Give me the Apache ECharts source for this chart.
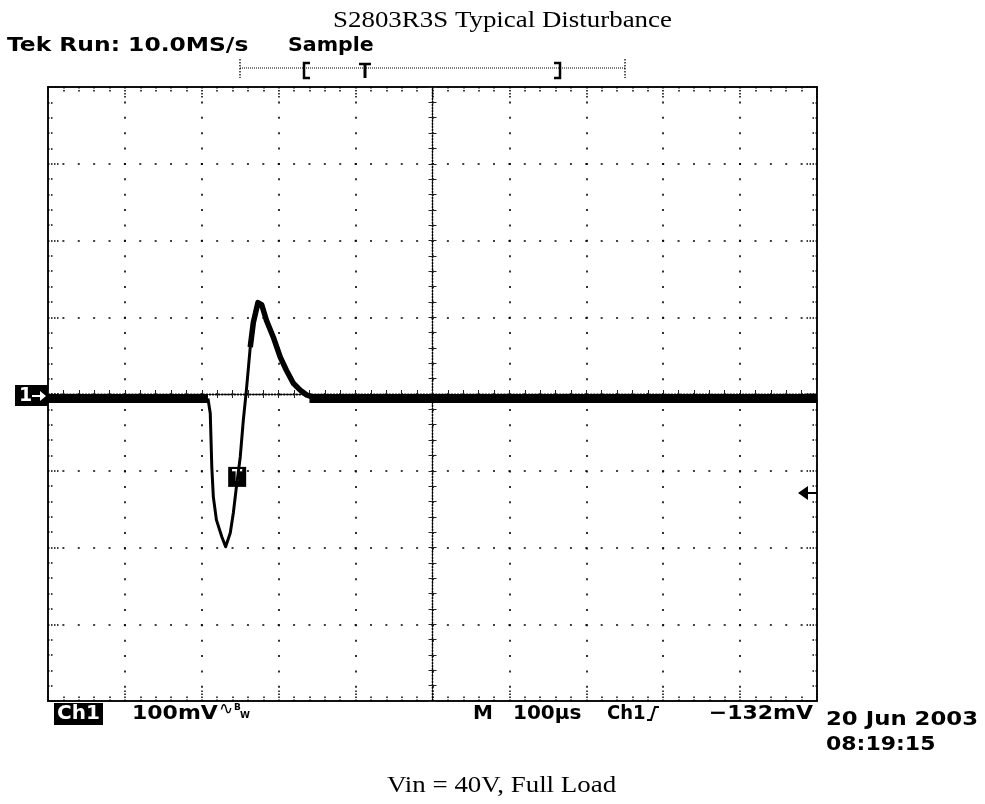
<!DOCTYPE html>
<html><head><meta charset="utf-8">
<script src="https://cdn.jsdelivr.net/npm/echarts@6/dist/echarts.min.js"></script>
<style>html,body{margin:0;padding:0;background:#fff;}#c{width:985px;height:804px;}</style>
</head><body><div id="c"></div>
<script>
// ---- data ----
const titleText = 'S2803R3S Typical Disturbance';
const captionText = 'Vin = 40V, Full Load';
const xRange = [-500, 500];   // µs (100 µs / div)
const yRange = [-400, 400];   // mV (100 mV / div)
const baseLevel = -6;         // mV
const flatLeftT = [-500, -292];
const flatRightT = [-160, 500];
const dipT = [-292, -289, -287, -285, -281, -274, -269, -263, -259, -255, -250, -246, -242, -237, -233];
const dipV = [-6, -25, -95, -134, -164, -186, -199, -181, -155, -121, -82, -34, 5, 61, 93];
const humpT = [-237, -233, -227, -222, -216, -207, -198, -190, -181, -172, -164, -155, -150];
const humpV = [61, 93, 119, 116, 96, 74, 48, 31, 14, 5, -1, -4, -6];
const triggerMarker = [-254, -108];
const triggerLevel = -132;

const chart = echarts.init(document.getElementById('c'), null, {renderer: 'canvas'});
const BLK = '#000';
const dotGrid = [2, 13.38];
const dense = [1.5, 1.6];

function borderAxis(pos, withSplit, range) {
  return {
    type: 'value', min: range[0], max: range[1], interval: 100, position: pos,
    axisLine: {show: true, onZero: false, lineStyle: {color: '#111', width: 2}},
    axisTick: {show: true, inside: true, length: 11, lineStyle: {color: BLK, width: 1.5, type: [1.5, 1.5]}},
    minorTick: {show: true, splitNumber: 5, length: 6, lineStyle: {color: BLK, width: 1.5, type: [1.5, 1.5]}},
    axisLabel: {show: false},
    splitLine: {show: withSplit, lineStyle: {color: BLK, width: 1.6, type: dotGrid, dashOffset: 1}},
    minorSplitLine: {show: false}
  };
}
function centerAxis(pos, inside, range) {
  return {
    type: 'value', min: range[0], max: range[1], interval: 100, position: pos,
    axisLine: {show: true, onZero: true, onZeroAxisIndex: 0, lineStyle: {color: BLK, width: 1.3, type: dense}},
    axisTick: {show: true, inside: inside, length: 4, lineStyle: {color: '#222', width: 1}},
    minorTick: {show: true, splitNumber: 5, length: 4, lineStyle: {color: '#222', width: 1}},
    axisLabel: {show: false},
    splitLine: {show: false}
  };
}
function pts(ts, vs) { return ts.map((t, i) => [t, vs[i]]); }
function flat(ts) { return ts.map(t => [t, baseLevel]); }

function txt(x, y, text, font, sx, opts) {
  opts = opts || {};
  return {
    type: 'text', x: x, y: y, z: 100, scaleX: sx || 1,
    style: {text: text, font: font, fill: opts.fill || '#000',
      textAlign: opts.align || 'left', align: opts.align || 'left',
      textVerticalAlign: 'middle', verticalAlign: 'middle'}
  };
}
const TEK = '"DejaVu Sans"';

const option = {
  animation: false,
  backgroundColor: '#fff',
  grid: {left: 48, right: 168, top: 87, bottom: 103, containLabel: false},
  xAxis: [
    borderAxis('bottom', true, xRange),
    borderAxis('top', false, xRange),
    centerAxis('bottom', true, xRange),
    centerAxis('bottom', false, xRange)
  ],
  yAxis: [
    borderAxis('left', true, yRange),
    borderAxis('right', false, yRange),
    centerAxis('left', true, yRange),
    centerAxis('left', false, yRange)
  ],
  series: [
    {type: 'line', data: flat(flatLeftT), showSymbol: false, lineStyle: {color: BLK, width: 9}, z: 5},
    {type: 'line', data: flat(flatRightT), showSymbol: false, lineStyle: {color: BLK, width: 9}, z: 5},
    {type: 'line', data: pts(dipT, dipV), showSymbol: false, lineStyle: {color: BLK, width: 3, join: 'round'}, z: 5,
     markPoint: {symbol: 'rect', symbolSize: [18, 20], itemStyle: {color: '#000'},
       label: {show: true, formatter: 'T', color: '#fff', fontWeight: 'bold', fontSize: 15, fontFamily: 'DejaVu Sans'},
       data: [{coord: triggerMarker}]}},
    {type: 'line', data: pts(humpT, humpV), showSymbol: false, lineStyle: {color: BLK, width: 5.5, join: 'round'}, z: 5}
  ],
  graphic: [
    txt(333, 21, titleText, '23px "Liberation Serif"', 1.17),
    txt(7, 46, 'Tek Run: 10.0MS/s', 'bold 19px ' + TEK, 1.23),
    txt(288, 46, 'Sample', 'bold 19px ' + TEK, 1.08),
    {type: 'line', shape: {x1: 240, y1: 68, x2: 625, y2: 68}, style: {stroke: '#000', lineWidth: 1, lineDash: [1, 1]}},
    {type: 'line', shape: {x1: 240, y1: 59, x2: 240, y2: 78}, style: {stroke: '#000', lineWidth: 1.3, lineDash: [1.5, 1.5]}},
    {type: 'line', shape: {x1: 625, y1: 59, x2: 625, y2: 78}, style: {stroke: '#000', lineWidth: 1.3, lineDash: [1.5, 1.5]}},
    {type: 'polyline', shape: {points: [[310, 63], [304, 63], [304, 78], [310, 78]]}, style: {stroke: '#000', lineWidth: 2.5, fill: null}},
    {type: 'polyline', shape: {points: [[554, 63], [560, 63], [560, 78], [554, 78]]}, style: {stroke: '#000', lineWidth: 2.5, fill: null}},
    {type: 'polyline', shape: {points: [[359, 64], [371, 64]]}, style: {stroke: '#000', lineWidth: 2.5}},
    {type: 'polyline', shape: {points: [[365, 64], [365, 78]]}, style: {stroke: '#000', lineWidth: 3}},
    // channel 1 ground marker
    {type: 'rect', shape: {x: 15, y: 385, width: 33, height: 21}, style: {fill: '#000'}, z: 50},
    txt(19, 396, '1', 'bold 19px ' + TEK, 1, {fill: '#fff'}),
    {type: 'polyline', shape: {points: [[32, 396], [44, 396]]}, style: {stroke: '#fff', lineWidth: 2}, z: 101},
    {type: 'polygon', shape: {points: [[46, 396], [40, 391], [40, 401]]}, style: {fill: '#fff'}, z: 101},
    // trigger level arrow on right
    {type: 'polygon', shape: {points: [[798, 493], [808, 486], [808, 500]]}, style: {fill: '#000'}, z: 50},
    {type: 'polyline', shape: {points: [[806, 493], [817, 493]]}, style: {stroke: '#000', lineWidth: 2}, z: 50},
    // bottom readouts
    {type: 'rect', shape: {x: 54, y: 703, width: 49, height: 22}, style: {fill: '#000'}, z: 50},
    txt(57, 714, 'Ch1', 'bold 20px ' + TEK, 1, {fill: '#fff'}),
    txt(132, 714, '100mV', 'bold 20px ' + TEK, 1.1),
    txt(219, 710, '∿', '17px ' + TEK),
    txt(234, 708, 'B', 'bold 9px ' + TEK),
    txt(240, 716, 'W', 'bold 9px ' + TEK),
    txt(473, 714, 'M', 'bold 20px ' + TEK),
    txt(513, 714, '100µs', 'bold 20px ' + TEK),
    txt(607, 714, 'Ch1', 'bold 20px ' + TEK, 0.9),
    {type: 'polyline', shape: {points: [[647, 720], [651, 720], [655, 707], [659, 707]]}, style: {stroke: '#000', lineWidth: 2, fill: null}},
    txt(813, 714, '\u2212132mV', 'bold 20px ' + TEK, 1.1, {align: 'right'}),
    txt(826, 720, '20 Jun 2003', 'bold 20px ' + TEK, 1.14),
    txt(826, 745, '08:19:15', 'bold 20px ' + TEK, 1.1),
    txt(387, 786, captionText, '23px "Liberation Serif"', 1.17)
  ]
};
chart.setOption(option);
</script>
</body></html>
